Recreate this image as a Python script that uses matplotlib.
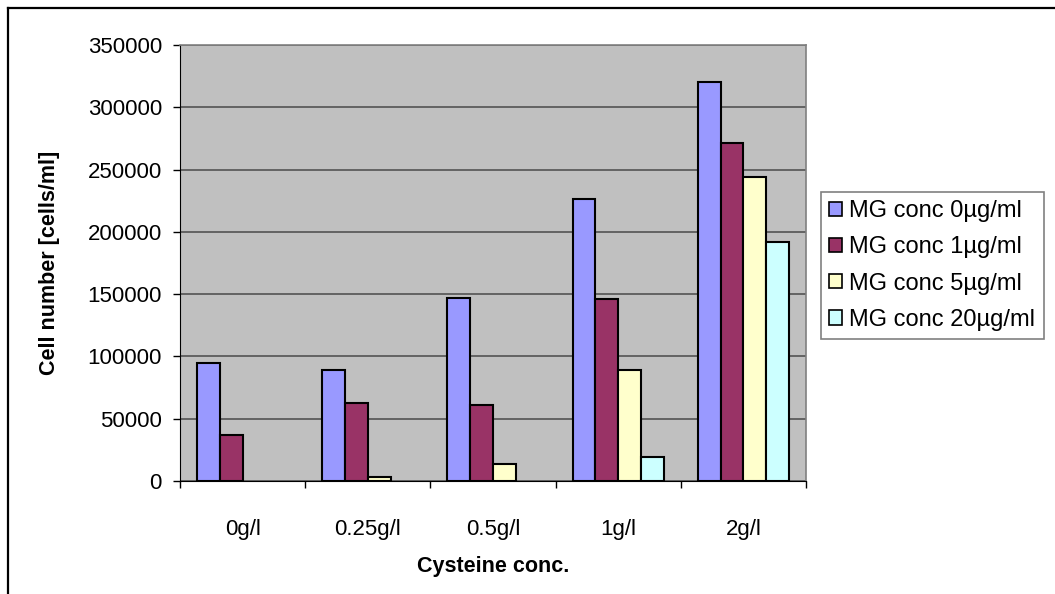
import matplotlib
matplotlib.use("Agg")
import matplotlib.pyplot as plt
import numpy as np
from matplotlib.lines import Line2D

plt.rcParams["font.family"] = ["Liberation Sans", "DejaVu Sans"]

# Data
categories = ["0g/l", "0.25g/l", "0.5g/l", "1g/l", "2g/l"]
series_names = ["MG conc 0µg/ml", "MG conc 1µg/ml", "MG conc 5µg/ml", "MG conc 20µg/ml"]
mg_0 = [95000, 89000, 147000, 226000, 320000]
mg_1 = [37000, 63000, 61000, 146000, 271000]
mg_5 = [0, 3000, 14000, 89000, 244000]
mg_20 = [0, 0, 0, 19500, 192000]
y_ticks = [0, 50000, 100000, 150000, 200000, 250000, 300000, 350000]

colors = ["#9999FF", "#993366", "#FFFFCC", "#CCFFFF"]

W, H = 1055, 594
fig = plt.figure(figsize=(W / 100, H / 100), dpi=100)
ax = fig.add_axes([180 / W, 1 - 481 / H, (806 - 180) / W, (481 - 45) / H])
ax.set_facecolor("#C0C0C0")

x = np.arange(len(categories))
width = 1 / 5.5
for i, (vals, name, col) in enumerate(zip([mg_0, mg_1, mg_5, mg_20], series_names, colors)):
    vals = np.array(vals, dtype=float)
    lw = np.where(vals > 0, 1.5, 0.0)
    ax.bar(x + (i - 1.5) * width, vals, width, color=col, edgecolor="black",
           linewidth=lw, label=name, zorder=3)

ax.set_xlim(-0.5, len(categories) - 0.5)
ax.set_ylim(0, 350000)
ax.set_yticks(y_ticks)
ax.set_yticklabels([str(t) for t in y_ticks])
ax.yaxis.grid(True, color="#4a4a4a", linewidth=1.1, zorder=0)
ax.set_axisbelow(True)

ax.set_xticks(x)
ax.set_xticklabels(categories)
ax.set_xticks(np.arange(-0.5, len(categories)), minor=True)
ax.tick_params(axis="x", which="major", length=0, pad=27, labelsize=16)
ax.tick_params(axis="x", which="minor", length=5, width=1, color="black", direction="out")
ax.tick_params(axis="y", length=5, width=1, pad=8, labelsize=16, direction="out")

for s in ["top", "right"]:
    ax.spines[s].set_color("#808080")
    ax.spines[s].set_linewidth(1.2)
ax.spines["left"].set_color("black")
ax.spines["bottom"].set_color("black")

ax.set_xlabel("Cysteine conc.", fontsize=15.5, fontweight="bold", labelpad=12)
ax.set_ylabel("Cell number [cells/ml]", fontsize=15.5, fontweight="bold", labelpad=20)

leg = fig.legend(loc="upper left", bbox_to_anchor=(821 / W, 1 - 192 / H),
                 fontsize=17, frameon=True, fancybox=False, borderaxespad=0,
                 handlelength=0.55, handleheight=0.55, handletextpad=0.3,
                 labelspacing=0.6, borderpad=0.35)
leg.get_frame().set_edgecolor("#606060")
leg.get_frame().set_linewidth(1.2)
for h in leg.legend_handles:
    h.set_linewidth(1.2)

# outer chart border (left and top edges visible)
fig.add_artist(Line2D([8 / W, 8 / W], [0, 1 - 8 / H], color="black", linewidth=1.6))
fig.add_artist(Line2D([8 / W, 1], [1 - 8 / H, 1 - 8 / H], color="black", linewidth=1.6))

fig.savefig("out.png", dpi=100)
